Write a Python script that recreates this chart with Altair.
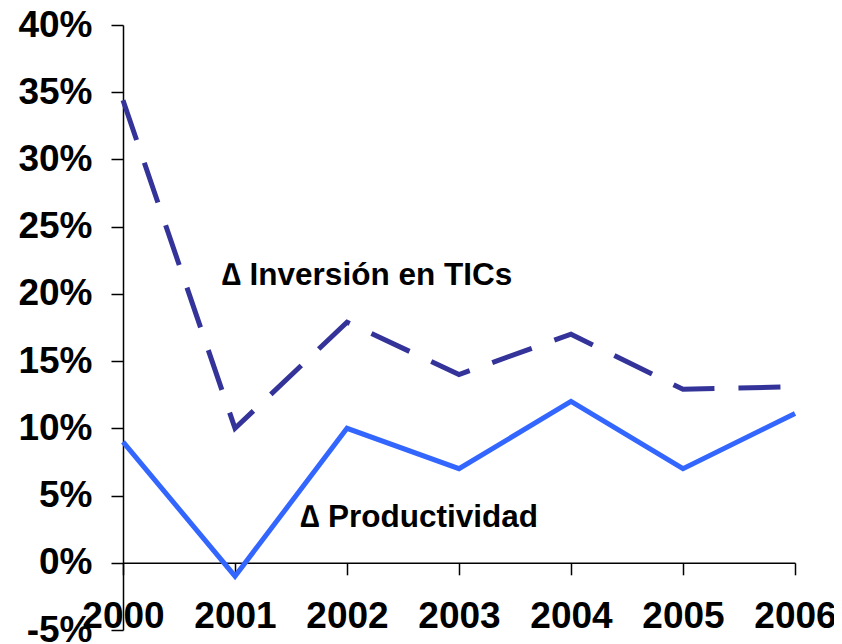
import altair as alt
import pandas as pd

years = [2000, 2001, 2002, 2003, 2004, 2005, 2006]
inversion = [0.344, 0.100, 0.179, 0.140, 0.170, 0.129, 0.131]
productividad = [0.090, -0.010, 0.100, 0.070, 0.120, 0.070, 0.111]
y_ticks = [-0.05, 0.0, 0.05, 0.10, 0.15, 0.20, 0.25, 0.30, 0.35, 0.40]
label_text = ["\u2206 Inversión en TICs", "\u2206 Productividad"]
label_x = [2000.88, 2001.58]
label_y = [0.2067, 0.0268]

FONT = "Liberation Sans"

df = pd.DataFrame({
    "year": years * 2,
    "value": inversion + productividad,
    "serie": ["Inversión"] * len(years) + ["Productividad"] * len(years),
})
labels = pd.DataFrame({"text": label_text, "x": label_x, "y": label_y})

x_enc = alt.X(
    "year:Q",
    scale=alt.Scale(domain=[2000, 2006], nice=False, zero=False),
    axis=alt.Axis(
        values=years, format="d", title=None, offset=-67.2,
        tickSize=12, tickWidth=1.5, tickColor="black",
        domainColor="black", domainWidth=1.5,
        labelPadding=24, labelFont=FONT, labelFontSize=37,
        labelFontWeight="bold", labelColor="black", grid=False,
        labelFlush=False, labelOverlap=False,
    ),
)
y_enc = alt.Y(
    "value:Q",
    scale=alt.Scale(domain=[-0.05, 0.40], nice=False, zero=False),
    axis=alt.Axis(
        values=y_ticks, format=".0%", title=None,
        labelExpr="replace(datum.label, '\u2212', '-')",
        tickSize=12, tickWidth=1.5, tickColor="black",
        domainColor="black", domainWidth=1.5,
        labelPadding=19, labelFont=FONT, labelFontSize=37,
        labelFontWeight="bold", labelColor="black", grid=False,
        labelFlush=False, labelOverlap=False,
    ),
)

base = alt.Chart(df)
inv_line = base.transform_filter(alt.datum.serie == "Inversión").mark_line(
    color="#333399", strokeWidth=5, strokeDash=[42, 24], strokeCap="butt"
).encode(x=x_enc, y=y_enc)
prod_line = base.transform_filter(alt.datum.serie == "Productividad").mark_line(
    color="#3366FF", strokeWidth=5, strokeJoin="miter"
).encode(x=x_enc, y=y_enc)

text = alt.Chart(labels).mark_text(
    align="left", baseline="alphabetic", font=FONT, fontSize=31.5,
    fontWeight="bold", color="black"
).encode(x=alt.X("x:Q"), y=alt.Y("y:Q"), text="text:N")

chart = alt.layer(inv_line, prod_line, text).properties(
    width=672, height=605,
    autosize=alt.AutoSizeParams(type="none"),
    padding={"left": 115, "top": 17, "right": 39, "bottom": 13},
).configure_view(stroke=None)

chart.save("out.html", embed_options={"renderer": "svg", "actions": False})
